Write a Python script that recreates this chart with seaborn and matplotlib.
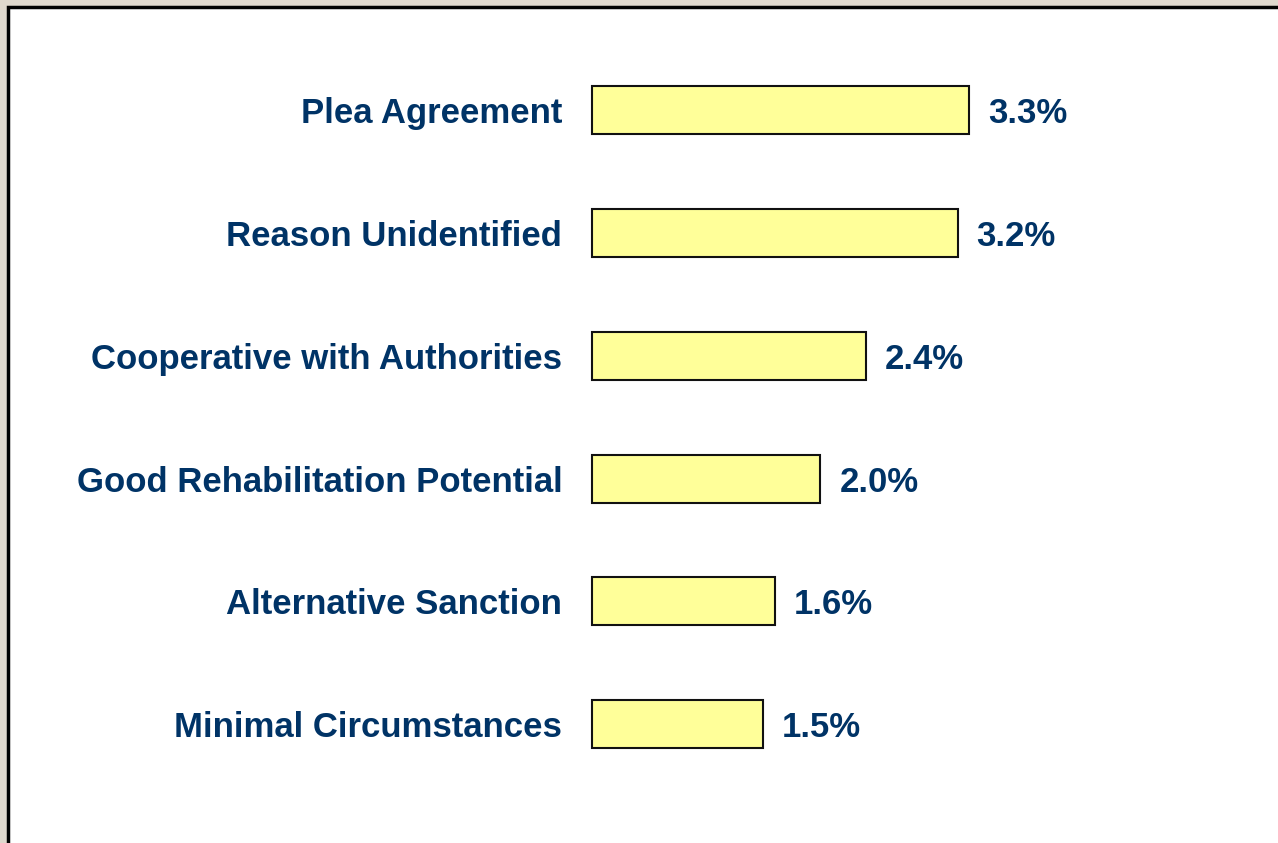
import matplotlib
matplotlib.use("Agg")
import matplotlib.pyplot as plt
from matplotlib.patches import Rectangle
import seaborn as sns
import pandas as pd

categories = [
    "Plea Agreement",
    "Reason Unidentified",
    "Cooperative with Authorities",
    "Good Rehabilitation Potential",
    "Alternative Sanction",
    "Minimal Circumstances",
]
values = [3.3, 3.2, 2.4, 2.0, 1.6, 1.5]
value_labels = ["3.3%", "3.2%", "2.4%", "2.0%", "1.6%", "1.5%"]

sns.set_theme(style="white")
plt.rcParams["font.family"] = ["Liberation Sans", "DejaVu Sans"]

W, H = 1278, 843
fig = plt.figure(figsize=(W / 100, H / 100), dpi=100)
fig.patch.set_facecolor("#DFD8CD")

# white panel with black frame
panel = Rectangle((7.5 / W, -0.1), 1.2, 1 - 6.5 / H + 0.1,
                  transform=fig.transFigure, facecolor="white",
                  edgecolor="black", linewidth=2.5, zorder=-10)
fig.patches.append(panel)

ax_left, ax_right = 591.5, 1163.5
ax_top, ax_bottom = 48.8, 785.6
ax = fig.add_axes([ax_left / W, 1 - ax_bottom / H,
                   (ax_right - ax_left) / W, (ax_bottom - ax_top) / H])
ax.set_facecolor("none")
ax.set_zorder(5)

df = pd.DataFrame({"category": categories, "value": values})
sns.barplot(data=df, x="value", y="category", orient="h", ax=ax,
            color="#FFFF99", saturation=1, edgecolor="#111111",
            linewidth=1.5, width=0.39)
for p in ax.patches:
    p.set_clip_on(False)

ax.set_xlim(0, 5)
ax.set_ylim(5.5, -0.5)
ax.set_xlabel("")
ax.set_ylabel("")
ax.set_xticks([])
for s in ax.spines.values():
    s.set_visible(False)

navy = "#003366"
ax.tick_params(axis="y", length=0, pad=21, labelsize=25,
               labelcolor=navy)
for t in ax.get_yticklabels():
    t.set_fontweight("bold")

for i, (v, lab) in enumerate(zip(values, value_labels)):
    ax.annotate(lab, xy=(v, i), xytext=(19, 0), textcoords="offset pixels",
                ha="left", va="center_baseline", fontsize=25,
                fontweight="bold", color=navy)

fig.savefig("out.png", dpi=100, facecolor=fig.get_facecolor())
